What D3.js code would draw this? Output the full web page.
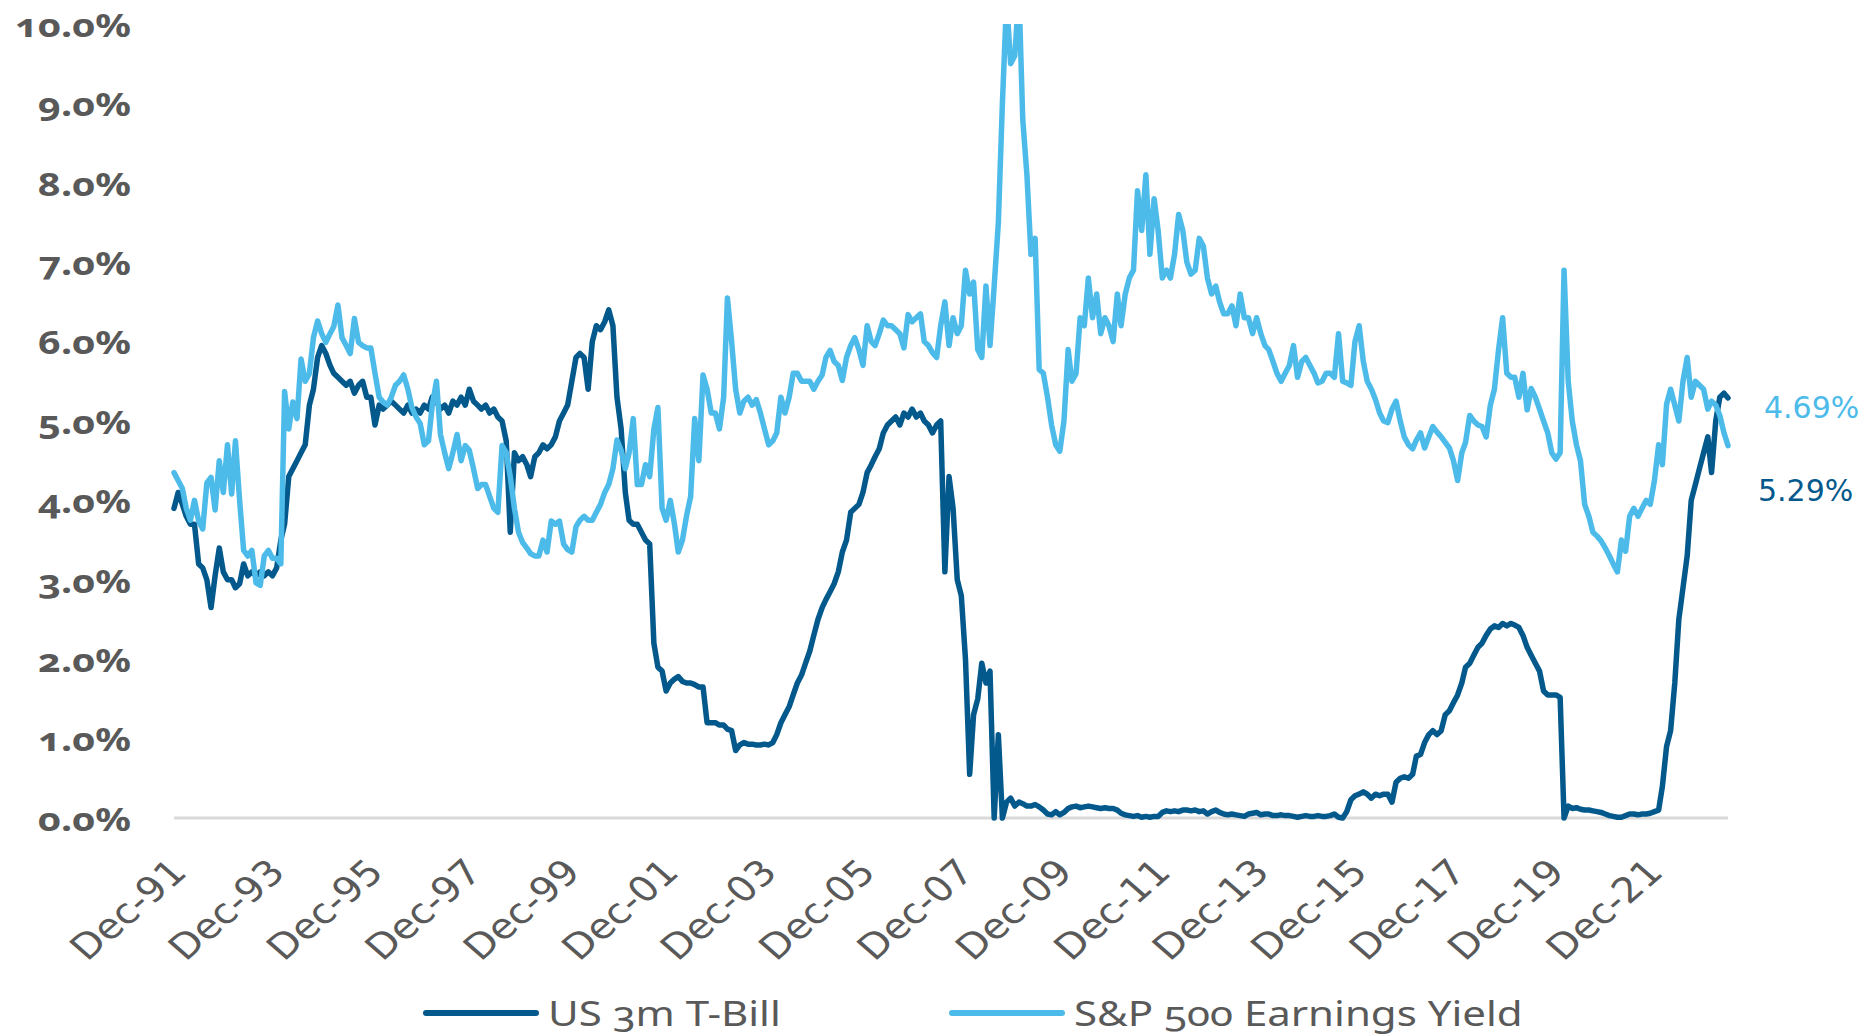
<!DOCTYPE html>
<html>
<head>
<meta charset="utf-8">
<script src="https://cdn.jsdelivr.net/npm/d3@7"></script>
<style>
  html, body { margin: 0; padding: 0; background: #ffffff; }
  svg { display: block; }
</style>
</head>
<body>
<svg id="chart" width="1866" height="1036"></svg>
<script>
// Monthly observations, first value is December 1991
const firstMonth = "1991-12";

// US 3-month Treasury bill yield, %
const tBill = [
  3.9,
  4.1, 3.95, 3.8, 3.7, 3.7, 3.2, 3.15, 3.0, 2.65, 3.05, 3.4, 3.1,          // 1992
  3.0, 3.0, 2.9, 2.95, 3.2, 3.05, 3.1, 3.05, 3.1, 3.05, 3.1, 3.05,         // 1993
  3.15, 3.5, 3.7, 4.3, 4.4, 4.5, 4.6, 4.7, 5.2, 5.4, 5.8, 5.95,            // 1994
  5.85, 5.7, 5.6, 5.55, 5.5, 5.45, 5.5, 5.35, 5.45, 5.5, 5.3, 5.3,         // 1995
  4.95, 5.2, 5.15, 5.2, 5.25, 5.2, 5.15, 5.1, 5.2, 5.1, 5.15, 5.1,         // 1996
  5.2, 5.15, 5.3, 5.25, 5.15, 5.2, 5.1, 5.25, 5.2, 5.3, 5.2, 5.4,          // 1997
  5.25, 5.2, 5.15, 5.2, 5.1, 5.15, 5.05, 5.0, 4.75, 3.6, 4.6, 4.5,         // 1998
  4.55, 4.45, 4.3, 4.55, 4.6, 4.7, 4.65, 4.7, 4.8, 5.0, 5.1, 5.2,          // 1999
  5.5, 5.8, 5.85, 5.8, 5.4, 6.0, 6.2, 6.15, 6.25, 6.4, 6.2, 5.3,           // 2000
  4.9, 4.1, 3.75, 3.7, 3.7, 3.6, 3.5, 3.45, 2.2, 1.9, 1.85, 1.6,           // 2001
  1.7, 1.75, 1.78, 1.72, 1.7, 1.7, 1.68, 1.65, 1.65, 1.2, 1.2, 1.2,       // 2002
  1.17, 1.17, 1.12, 1.1, 0.85, 0.92, 0.95, 0.93, 0.93, 0.92, 0.92, 0.93,  // 2003
  0.92, 0.95, 1.05, 1.2, 1.3, 1.4, 1.55, 1.7, 1.8, 1.95, 2.1, 2.3,        // 2004
  2.5, 2.65, 2.75, 2.85, 2.95, 3.1, 3.35, 3.5, 3.85, 3.9, 3.95, 4.1,      // 2005
  4.35, 4.45, 4.55, 4.65, 4.85, 4.95, 5.0, 5.05, 4.95, 5.1, 5.05, 5.15,   // 2006
  5.05, 5.1, 5.0, 4.95, 4.85, 4.95, 5.0, 3.1, 4.3, 3.9, 3.0, 2.8,         // 2007
  2.0, 0.55, 1.3, 1.5, 1.95, 1.7, 1.85, 0.0, 1.05, 0.0, 0.2, 0.25,        // 2008
  0.15, 0.2, 0.18, 0.15, 0.15, 0.17, 0.14, 0.1, 0.05, 0.04, 0.08, 0.04,   // 2009
  0.07, 0.12, 0.14, 0.15, 0.13, 0.14, 0.15, 0.14, 0.13, 0.12, 0.13, 0.12, // 2010
  0.12, 0.1, 0.06, 0.04, 0.03, 0.02, 0.03, 0.01, 0.02, 0.01, 0.02, 0.02,  // 2011
  0.07, 0.09, 0.08, 0.09, 0.08, 0.1, 0.1, 0.09, 0.1, 0.08, 0.09, 0.05,    // 2012
  0.08, 0.1, 0.07, 0.05, 0.04, 0.05, 0.04, 0.03, 0.02, 0.05, 0.06, 0.07,  // 2013
  0.04, 0.05, 0.05, 0.03, 0.03, 0.04, 0.03, 0.03, 0.02, 0.01, 0.02, 0.03, // 2014
  0.02, 0.02, 0.03, 0.02, 0.02, 0.03, 0.05, 0.01, 0.0, 0.08, 0.23, 0.28,  // 2015
  0.3, 0.33, 0.3, 0.25, 0.3, 0.28, 0.3, 0.3, 0.2, 0.45, 0.5, 0.52,        // 2016
  0.5, 0.55, 0.78, 0.8, 0.95, 1.05, 1.1, 1.05, 1.1, 1.3, 1.35, 1.45,      // 2017
  1.55, 1.7, 1.9, 1.95, 2.05, 2.15, 2.2, 2.3, 2.38, 2.42, 2.4, 2.45,      // 2018
  2.42, 2.45, 2.43, 2.4, 2.3, 2.15, 2.05, 1.95, 1.85, 1.6, 1.55, 1.55,    // 2019
  1.55, 1.52, 0.0, 0.15, 0.12, 0.13, 0.11, 0.1, 0.1, 0.09, 0.08, 0.07,    // 2020
  0.05, 0.03, 0.02, 0.01, 0.01, 0.03, 0.05, 0.05, 0.04, 0.05, 0.05, 0.06, // 2021
  0.08, 0.1, 0.4, 0.9, 1.1, 1.7, 2.5, 2.9, 3.3, 4.0, 4.2, 4.4,            // 2022
  4.6, 4.8, 4.35, 5.0, 5.3, 5.35, 5.29                                    // 2023
];

// S&P 500 trailing earnings yield, %
const earningsYield = [
  4.35,
  4.25, 4.15, 3.9, 3.75, 4.0, 3.74, 3.64, 4.22, 4.29, 3.88, 4.5, 4.1,     // 1992
  4.7, 4.08, 4.75, 4.0, 3.37, 3.3, 3.37, 2.96, 2.93, 3.3, 3.37, 3.27,     // 1993
  3.27, 3.2, 5.37, 4.9, 5.24, 5.03, 5.78, 5.5, 5.6, 6.05, 6.26, 6.1,      // 1994
  5.99, 6.1, 6.19, 6.46, 6.05, 5.95, 5.85, 6.29, 5.99, 5.95, 5.92, 5.92,  // 1995
  5.6, 5.3, 5.24, 5.2, 5.3, 5.45, 5.5, 5.58, 5.4, 5.17, 5.05, 4.97,       // 1996
  4.7, 4.75, 5.2, 5.5, 4.83, 4.6, 4.4, 4.6, 4.83, 4.5, 4.69, 4.63,        // 1997
  4.4, 4.15, 4.2, 4.2, 4.05, 3.9, 3.85, 4.69, 4.6, 4.3, 3.9, 3.6,         // 1998
  3.47, 3.4, 3.33, 3.3, 3.3, 3.5, 3.35, 3.74, 3.7, 3.74, 3.45, 3.38,      // 1999
  3.35, 3.67, 3.75, 3.8, 3.75, 3.75, 3.85, 3.95, 4.1, 4.2, 4.4, 4.76,     // 2000
  4.63, 4.4, 4.6, 5.03, 4.2, 4.2, 4.45, 4.3, 4.9, 5.17, 3.9, 3.75,        // 2001
  4.0, 3.7, 3.35, 3.5, 3.8, 4.05, 5.03, 4.5, 5.58, 5.4, 5.1, 5.1,         // 2002
  4.9, 5.3, 6.55, 6.0, 5.4, 5.1, 5.25, 5.3, 5.2, 5.27, 5.1, 4.9,          // 2003
  4.7, 4.75, 4.85, 5.3, 5.1, 5.3, 5.6, 5.6, 5.5, 5.5, 5.5, 5.4,           // 2004
  5.5, 5.58, 5.8, 5.89, 5.75, 5.7, 5.51, 5.8, 5.95, 6.05, 5.9, 5.7,       // 2005
  6.2, 6.0, 5.95, 6.1, 6.27, 6.2, 6.2, 6.15, 6.1, 5.92, 6.34, 6.25,       // 2006
  6.3, 6.35, 6.0, 5.95, 5.86, 5.8, 6.2, 6.5, 5.95, 6.3, 6.1, 6.2,         // 2007
  6.9, 6.6, 6.75, 5.9, 5.8, 6.7, 5.95, 6.7, 7.5, 9.0, 10.3, 9.5,          // 2008
  9.6, 10.4, 8.8, 8.1, 7.1, 7.3, 5.65, 5.6, 5.3, 4.95, 4.7, 4.62,         // 2009
  5.0, 5.9, 5.5, 5.6, 6.3, 6.2, 6.8, 6.3, 6.6, 6.1, 6.3, 6.2,             // 2010
  6.0, 6.6, 6.2, 6.6, 6.8, 6.9, 7.9, 7.4, 8.1, 7.1, 7.8, 7.4,             // 2011
  6.8, 6.9, 6.8, 7.1, 7.6, 7.4, 7.0, 6.85, 6.9, 7.3, 7.2, 6.8,            // 2012
  6.6, 6.7, 6.5, 6.35, 6.35, 6.45, 6.2, 6.6, 6.3, 6.3, 6.1, 6.3,          // 2013
  6.1, 5.95, 5.9, 5.75, 5.6, 5.5, 5.6, 5.7, 5.95, 5.55, 5.75, 5.8,        // 2014
  5.7, 5.6, 5.48, 5.5, 5.6, 5.6, 5.55, 6.1, 5.5, 5.48, 5.45, 6.0,         // 2015
  6.2, 5.75, 5.5, 5.4, 5.27, 5.1, 5.0, 4.98, 5.15, 5.25, 5.0, 4.8,        // 2016
  4.7, 4.65, 4.76, 4.85, 4.66, 4.8, 4.93, 4.86, 4.8, 4.73, 4.66, 4.5,     // 2017
  4.25, 4.6, 4.73, 5.07, 5.0, 4.95, 4.93, 4.8, 5.2, 5.4, 5.9, 6.3,        // 2018
  5.6, 5.55, 5.55, 5.3, 5.6, 5.14, 5.41, 5.3, 5.15, 5.0, 4.85, 4.6,       // 2019
  4.52, 4.6, 6.9, 5.5, 5.0, 4.7, 4.5, 3.95, 3.8, 3.6, 3.55, 3.49,         // 2020
  3.4, 3.3, 3.2, 3.1, 3.5, 3.36, 3.8, 3.9, 3.8, 3.9, 4.0, 3.95,           // 2021
  4.25, 4.7, 4.45, 5.21, 5.4, 5.2, 5.0, 5.5, 5.8, 5.3, 5.5, 5.45,         // 2022
  5.4, 5.15, 5.25, 5.2, 5.07, 4.85, 4.69                                  // 2023
];

const seriesNames = ["US 3m T-Bill", "S&P 500 Earnings Yield"];
const yTicks = [0, 1, 2, 3, 4, 5, 6, 7, 8, 9, 10];
const xTickLabels = ["Dec-91", "Dec-93", "Dec-95", "Dec-97", "Dec-99", "Dec-01", "Dec-03", "Dec-05",
                     "Dec-07", "Dec-09", "Dec-11", "Dec-13", "Dec-15", "Dec-17", "Dec-19", "Dec-21"];

const colors = { bill: "#03598c", yield: "#4dbbe9", text: "#595959", base: "#d9d9d9" };
const plot = { left: 174, right: 1728, top: 24, bottom: 818 };

const svg = d3.select("#chart");

const start = d3.timeParse("%Y-%m")(firstMonth);
const monthAt = i => d3.timeMonth.offset(start, i);
const billData = tBill.map((v, i) => ({ date: monthAt(i), value: v }));
const yieldData = earningsYield.map((v, i) => ({ date: monthAt(i), value: v }));

const x = d3.scaleTime()
  .domain([monthAt(0), monthAt(tBill.length - 1)])
  .range([plot.left, plot.right]);
const y = d3.scaleLinear()
  .domain([yTicks[0], yTicks[yTicks.length - 1]])
  .range([plot.bottom, plot.top]);

// clip at the top of the value axis so the 2009 spike is cut flat
svg.append("defs").append("clipPath").attr("id", "plot-clip")
  .append("rect")
  .attr("x", plot.left - 10).attr("y", plot.top)
  .attr("width", plot.right - plot.left + 20).attr("height", plot.bottom - plot.top + 20);

// y axis labels
const yAxis = d3.axisLeft(y)
  .tickValues(yTicks)
  .tickSize(0)
  .tickPadding(0)
  .tickFormat(d => d3.format(".1f")(d) + "%");
const gy = svg.append("g").attr("transform", "translate(131,0)").call(yAxis);
gy.select(".domain").remove();
gy.selectAll("text")
  .attr("dy", "0.37em")
  .attr("transform", "scale(1.2,1)")
  .style("font-family", "'Noto Sans', 'Open Sans', sans-serif")
  .style("font-weight", 700)
  .style("font-size", "33px")
  .style("font-variant-numeric", "oldstyle-nums")
  .style("fill", colors.text);

// zero line
svg.append("line")
  .attr("x1", plot.left).attr("x2", plot.right)
  .attr("y1", y(0)).attr("y2", y(0))
  .attr("stroke", colors.base).attr("stroke-width", 3);

// x axis labels, slanted
const parseLabel = d3.timeParse("%b-%y");
const xAxis = d3.axisBottom(x)
  .tickValues(xTickLabels.map(parseLabel))
  .tickSize(0)
  .tickFormat(d3.timeFormat("%b-%y"));
const gx = svg.append("g").attr("transform", `translate(0,${plot.bottom})`).call(xAxis);
gx.select(".domain").remove();
gx.selectAll("text")
  .attr("x", 0).attr("y", 0).attr("dy", 0)
  .attr("text-anchor", "end")
  .attr("transform", "translate(14,56) scale(1.15,1) rotate(-45)")
  .style("font-family", "'DejaVu Sans', Verdana, sans-serif")
  .style("font-size", "35px")
  .style("fill", colors.text);

// series lines
const line = d3.line().x(d => x(d.date)).y(d => y(d.value));
const lines = svg.append("g").attr("clip-path", "url(#plot-clip)");
lines.append("path").datum(billData)
  .attr("d", line).attr("fill", "none")
  .attr("stroke", colors.bill).attr("stroke-width", 5.5)
  .attr("stroke-linejoin", "round").attr("stroke-linecap", "round");
lines.append("path").datum(yieldData)
  .attr("d", line).attr("fill", "none")
  .attr("stroke", colors.yield).attr("stroke-width", 5.5)
  .attr("stroke-linejoin", "round").attr("stroke-linecap", "round");

// latest-value labels
const lastBill = billData[billData.length - 1];
const lastYield = yieldData[yieldData.length - 1];
const endFmt = d => d3.format(".2f")(d) + "%";
svg.append("text")
  .attr("x", x(lastYield.date) + 36).attr("y", y(lastYield.value) - 28)
  .style("font-family", "'DejaVu Sans', Verdana, sans-serif")
  .style("font-size", "30px")
  .style("fill", colors.yield)
  .text(endFmt(lastYield.value));
svg.append("text")
  .attr("x", x(lastBill.date) + 30).attr("y", y(lastBill.value) + 103)
  .style("font-family", "'DejaVu Sans', Verdana, sans-serif")
  .style("font-size", "30px")
  .style("fill", colors.bill)
  .text(endFmt(lastBill.value));

// legend
const legendItems = [
  { name: seriesNames[0], color: colors.bill, x: 426 },
  { name: seriesNames[1], color: colors.yield, x: 952 }
];
const lg = svg.append("g").selectAll("g").data(legendItems).join("g")
  .attr("transform", d => `translate(${d.x},1013)`);
lg.append("line")
  .attr("x1", 0).attr("x2", 110).attr("y1", 0).attr("y2", 0)
  .attr("stroke", d => d.color).attr("stroke-width", 6).attr("stroke-linecap", "round");
lg.append("text")
  .attr("x", 0).attr("y", 0).attr("dy", "0.36em")
  .attr("transform", "translate(122,0) scale(1.2,1)")
  .style("font-family", "'Noto Sans', 'Open Sans', sans-serif")
  .style("font-size", "35px")
  .style("font-variant-numeric", "oldstyle-nums")
  .style("fill", colors.text)
  .text(d => d.name);
</script>
</body>
</html>
